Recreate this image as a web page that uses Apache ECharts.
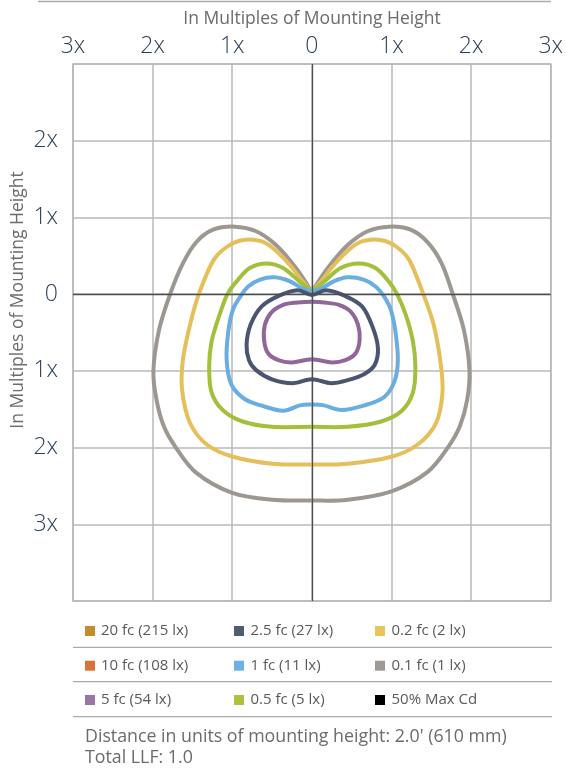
<!DOCTYPE html>
<html>
<head>
<meta charset="utf-8">
<script src="https://cdn.jsdelivr.net/npm/echarts@6.0.0/dist/echarts.min.js"></script>
<style>
html,body{margin:0;padding:0;background:#fff;}
#chart{width:566px;height:770px;}
</style>
</head>
<body>
<div id="chart"></div>
<script>
// Axis ticks (multiples of mounting height)
const xTicks = [-3, -2, -1, 0, 1, 2, 3];
const yTicks = [-4, -3, -2, -1, 0, 1, 2, 3];
const xTitle = 'In Multiples of Mounting Height';
const yTitle = 'In Multiples of Mounting Height';

// Isofootcandle contours [x, y] (y positive = above the fixture line)
const curve01fc = [[0,0.03],[0.2,0.34],[0.45,0.64],[0.7,0.82],[0.97,0.88],[1.24,0.84],[1.45,0.68],[1.63,0.40],[1.77,0.0],[1.91,-0.47],[1.98,-1.0],[1.95,-1.38],[1.86,-1.72],[1.72,-1.98],[1.45,-2.32],[1.0,-2.57],[0.45,-2.68],[0,-2.69],[-0.5,-2.68],[-1.0,-2.59],[-1.45,-2.33],[-1.72,-1.98],[-1.86,-1.72],[-1.95,-1.38],[-1.99,-1.0],[-1.92,-0.47],[-1.78,0.0],[-1.62,0.40],[-1.45,0.68],[-1.24,0.84],[-0.97,0.88],[-0.7,0.82],[-0.45,0.64],[-0.2,0.34],[0,0.03]];
const curve02fc = [[0,0.03],[0.11,0.16],[0.32,0.43],[0.57,0.66],[0.83,0.71],[1.03,0.64],[1.22,0.45],[1.40,0.0],[1.53,-0.40],[1.62,-0.92],[1.64,-1.29],[1.56,-1.68],[1.33,-1.96],[1.0,-2.12],[0.45,-2.21],[0,-2.22],[-0.5,-2.21],[-0.99,-2.12],[-1.32,-1.96],[-1.53,-1.68],[-1.63,-1.25],[-1.62,-0.86],[-1.53,-0.40],[-1.42,0.0],[-1.23,0.45],[-1.03,0.64],[-0.83,0.71],[-0.57,0.66],[-0.32,0.43],[-0.11,0.16],[0,0.03]];
const curve05fc = [[0,0.04],[0.15,0.16],[0.36,0.34],[0.59,0.40],[0.8,0.34],[0.97,0.16],[1.07,0.0],[1.18,-0.27],[1.27,-0.62],[1.30,-0.95],[1.27,-1.28],[1.13,-1.52],[0.87,-1.66],[0.45,-1.73],[0,-1.73],[-0.5,-1.73],[-0.87,-1.66],[-1.12,-1.51],[-1.26,-1.28],[-1.29,-0.95],[-1.26,-0.62],[-1.16,-0.27],[-1.06,0.0],[-0.95,0.16],[-0.78,0.34],[-0.57,0.40],[-0.36,0.34],[-0.15,0.16],[0,0.04]];
const curve1fc = [[0,0.03],[0.13,0.08],[0.28,0.17],[0.45,0.22],[0.65,0.19],[0.80,0.10],[0.90,-0.02],[0.99,-0.2],[1.05,-0.49],[1.08,-0.86],[1.04,-1.13],[0.91,-1.34],[0.66,-1.45],[0.37,-1.51],[0.15,-1.45],[0,-1.44],[-0.15,-1.45],[-0.36,-1.52],[-0.61,-1.46],[-0.84,-1.37],[-1.01,-1.18],[-1.07,-0.86],[-1.05,-0.49],[-0.99,-0.2],[-0.89,-0.02],[-0.8,0.10],[-0.65,0.19],[-0.47,0.22],[-0.28,0.17],[-0.13,0.08],[0,0.03]];
const curve25fc = [[0,-0.01],[0.18,0.05],[0.41,-0.02],[0.63,-0.16],[0.76,-0.42],[0.83,-0.70],[0.79,-0.92],[0.66,-1.04],[0.45,-1.12],[0.24,-1.16],[0,-1.11],[-0.24,-1.16],[-0.5,-1.11],[-0.70,-0.99],[-0.79,-0.86],[-0.82,-0.66],[-0.77,-0.40],[-0.63,-0.16],[-0.41,-0.02],[-0.18,0.05],[0,-0.01]];
const curve5fc = [[0,-0.85],[0.25,-0.89],[0.42,-0.86],[0.55,-0.77],[0.60,-0.60],[0.58,-0.40],[0.49,-0.23],[0.34,-0.14],[0.16,-0.11],[0,-0.10],[-0.18,-0.11],[-0.36,-0.14],[-0.51,-0.24],[-0.59,-0.40],[-0.60,-0.60],[-0.55,-0.77],[-0.42,-0.86],[-0.25,-0.89],[0,-0.85]];

// Legend
const legendNames = ['20 fc (215 lx)','10 fc (108 lx)','5 fc (54 lx)','2.5 fc (27 lx)','1 fc (11 lx)','0.5 fc (5 lx)','0.2 fc (2 lx)','0.1 fc (1 lx)','50% Max Cd'];
const legendColors = ['#c48d2c','#d6743a','#9a74a6','#4f5c74','#6cb2e4','#aac43e','#e8c55c','#9e9994','#000000'];
const footerLines = ["Distance in units of mounting height: 2.0' (610 mm)", 'Total LLF: 1.0'];

const curves = [
  {name:'0.1 fc (1 lx)', data:curve01fc, color:'#9d9792', closed:false},
  {name:'0.2 fc (2 lx)', data:curve02fc, color:'#e4bf5a', closed:false},
  {name:'0.5 fc (5 lx)', data:curve05fc, color:'#a3bf3c', closed:false},
  {name:'1 fc (11 lx)', data:curve1fc, color:'#6aade0', closed:false},
  {name:'2.5 fc (27 lx)', data:curve25fc, color:'#4a5570', closed:true},
  {name:'5 fc (54 lx)', data:curve5fc, color:'#8f6899', closed:true}
];

const FONT = "'Open Sans', 'Noto Sans', sans-serif";
const labelFmt = v => v === 0 ? '0' : Math.abs(v) + 'x';

// Smooth path through pixel points (Catmull-Rom drawn as cubic Beziers)
function smoothPath(p, closed) {
  const n = p.length;
  const t = 1 / 6;
  let d = 'M' + p[0][0] + ',' + p[0][1];
  for (let i = 0; i < n - 1; i++) {
    const p0 = i > 0 ? p[i - 1] : (closed ? p[n - 2] : p[0]);
    const p1 = p[i], p2 = p[i + 1];
    const p3 = i + 2 < n ? p[i + 2] : (closed ? p[1] : p[n - 1]);
    const c1x = p1[0] + (p2[0] - p0[0]) * t, c1y = p1[1] + (p2[1] - p0[1]) * t;
    const c2x = p2[0] - (p3[0] - p1[0]) * t, c2y = p2[1] - (p3[1] - p1[1]) * t;
    d += ' C' + c1x + ',' + c1y + ' ' + c2x + ',' + c2y + ' ' + p2[0] + ',' + p2[1];
  }
  return d;
}

const series = [{
  type:'line', data:[], z:1, silent:true,
  markLine:{silent:true, symbol:'none', label:{show:false},
    lineStyle:{color:'#4d4d4d', width:1.3, type:'solid'},
    data:[{xAxis:0},{yAxis:0}]}
}];
curves.forEach(c => {
  series.push({
    type:'custom', name:c.name, data:c.data, silent:true, z:3,
    renderItem:(params, api) => {
      if (params.dataIndex !== 0) return null;
      const px = c.data.map(pt => api.coord(pt));
      return {type:'path', shape:{pathData:smoothPath(px, c.closed)},
        style:{fill:'none', stroke:c.color, lineWidth:4, lineJoin:'round', lineCap:'round'}};
    }
  });
});

const graphic = [];
graphic.push({type:'line', shape:{x1:38, y1:1.5, x2:551, y2:1.5}, style:{stroke:'#aaa', lineWidth:1.5}});
graphic.push({type:'text', x:312, y:19, style:{text:xTitle, font:"17.5px "+FONT, fill:'#6b6b6b', textAlign:'center', textVerticalAlign:'middle'}});
graphic.push({type:'text', x:18, y:300, rotation:Math.PI/2, style:{text:yTitle, font:"17.5px "+FONT, fill:'#6b6b6b', textAlign:'center', textVerticalAlign:'middle'}});
const rowY = [631, 665.7, 700];
const colSw = [85, 234, 375];
const colTx = [101, 250.5, 391.5];
legendNames.forEach((n, i) => {
  const r = i % 3, c = Math.floor(i / 3);
  graphic.push({type:'rect', shape:{x:colSw[c], y:rowY[r]-5, width:10, height:10}, style:{fill:legendColors[i]}});
  graphic.push({type:'text', x:colTx[c], y:rowY[r], style:{text:n, font:"15px "+FONT, fill:'#5a5a5a', textVerticalAlign:'middle'}});
});
[647.3, 681.7, 716.7].forEach(y => {
  graphic.push({type:'line', shape:{x1:73, y1:y, x2:552, y2:y}, style:{stroke:'#aaa', lineWidth:1.2}});
});
footerLines.forEach((t, i) => {
  graphic.push({type:'text', x:85, y:737 + i*21, style:{text:t, font:"17.8px "+FONT, fill:'#6b6b6b', textVerticalAlign:'middle'}});
});

const chart = echarts.init(document.getElementById('chart'), null, {renderer:'canvas'});
chart.setOption({
  animation:false,
  backgroundColor:'#fff',
  grid:{left:73, right:15, top:64, bottom:169, show:true, borderColor:'#b5b5b5', borderWidth:1.5},
  xAxis:{type:'value', position:'top', min:xTicks[0], max:xTicks[xTicks.length-1], interval:1,
    axisLine:{show:false}, axisTick:{show:false},
    splitLine:{show:true, lineStyle:{color:'#b8b8b8', width:1.5}},
    axisLabel:{formatter:labelFmt, fontSize:23, color:'#2c3f56', fontFamily:FONT, fontWeight:300, margin:6}},
  yAxis:{type:'value', min:yTicks[0], max:yTicks[yTicks.length-1], interval:1,
    axisLine:{show:false}, axisTick:{show:false},
    splitLine:{show:true, lineStyle:{color:'#b8b8b8', width:1.5}},
    axisLabel:{formatter:v => (v === yTicks[0] || v === yTicks[yTicks.length-1]) ? '' : labelFmt(v),
      fontSize:23, color:'#2c3f56', fontFamily:FONT, fontWeight:300, margin:15}},
  series:series,
  graphic:graphic
});
</script>
</body>
</html>
